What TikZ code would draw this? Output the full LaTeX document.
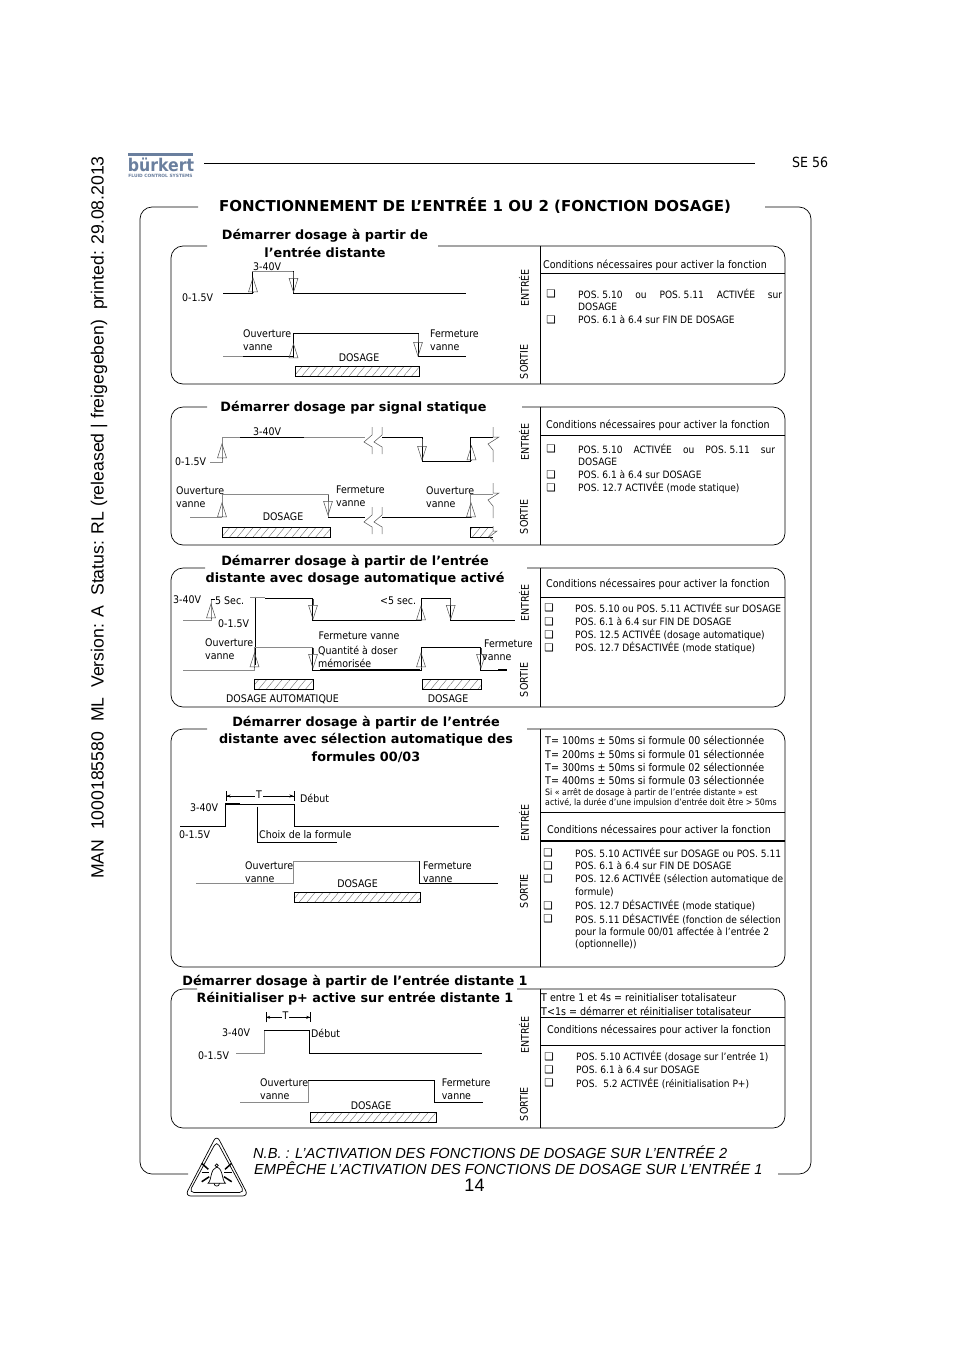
\documentclass[tikz,border=0pt]{standalone}
\usepackage{fontspec}
\setmainfont{Liberation Sans}
\newfontfamily\tahomaFont{DejaVu Sans Condensed}
\newfontfamily\verdanaFont{DejaVu Sans}
\usetikzlibrary{arrows.meta, patterns.meta}
\definecolor{logoBlue}{HTML}{6A7F9E}
\definecolor{lineGray}{HTML}{8A8A8A}
\definecolor{hatchGray}{HTML}{707070}
\definecolor{tipGray}{HTML}{505050}
\tikzset{
  panelLine/.style={draw=black, line width=0.7pt},
  sigLine/.style={draw=black, line width=0.7pt},
  sigThick/.style={draw=black, line width=1.5pt},
  sigGray/.style={draw=lineGray, line width=0.8pt},
  pulseTip/.style={draw=tipGray, line width=0.5pt, -{Triangle[open, length=15pt, width=9.5pt]}},
  dimLine/.style={draw=black, line width=0.5pt, {Bar[width=10pt]Stealth[length=4pt, width=3pt]}-{Stealth[length=4pt, width=3pt]Bar[width=10pt]}},
  hatchBar/.style={draw=black, line width=0.7pt, pattern={Lines[angle=50, distance=6pt, line width=0.4pt]}, pattern color=hatchGray},
  labelText/.style={inner sep=0pt, align=left, anchor=west, font=\tahomaFont\fontsize{10.5}{13}\selectfont},
  condText/.style={inner sep=0pt, anchor=west, font=\tahomaFont\fontsize{10.6}{13}\selectfont},
  posText/.style={inner sep=0pt, anchor=west, font=\tahomaFont\fontsize{10.1}{13}\selectfont},
  smallText/.style={inner sep=0pt, anchor=west, font=\tahomaFont\fontsize{8.75}{10}\selectfont},
  markBox/.style={inner sep=0pt, font=\verdanaFont\fontsize{10.5}{11}\selectfont},
  sideText/.style={inner sep=0pt, rotate=90, font=\tahomaFont\fontsize{10.6}{12}\selectfont},
  headText/.style={inner sep=0pt, align=center, font=\verdanaFont\bfseries\fontsize{12.8}{17.5}\selectfont},
  noteText/.style={inner sep=0pt, anchor=west, font=\itshape\fontsize{14.6}{16}\selectfont},
  breakMark/.pic={\draw[draw=tipGray, line width=0.5pt] (0,0) -- (0,8) -- (-8,15) -- (0,20) -- (0,27);},
  breakEnd/.pic={\draw[draw=tipGray, line width=0.5pt] (0,0) -- (0,10) -- (6,10) -- (-5,17) -- (0,23) -- (0,35);},
}
\begin{document}
\begin{tikzpicture}[x=1pt, y=-1pt]
    \useasboundingbox (0,0) rectangle (954,1352);
    \fill[white] (0,0) rectangle (954,1352);

    \node[inner sep=0pt, rotate=90, font=\fontsize{17.65}{20}\selectfont] (sideBanner) at (99,517.5) {MAN\ \ 1000185580\ \ ML\ \ Version: A\ \ Status: RL (released | freigegeben)\ \ printed: 29.08.2013};

    \fill[logoBlue] (128,153.3) rectangle (193,155.8);
    \node[inner sep=0pt, text=logoBlue, font=\tahomaFont\bfseries\fontsize{17.5}{18}\selectfont] (logoName) at (161,165) {bürkert};
    \node[inner sep=0pt, text=logoBlue, font=\verdanaFont\bfseries\fontsize{4.4}{5}\selectfont] (logoTag) at (160.5,176) {FLUID CONTROL SYSTEMS};
    \draw[sigLine] (204,163) -- (755,163);
    \node[condText, font=\tahomaFont\fontsize{14}{16}\selectfont] (pageRef) at (792,162) {SE 56};

    \draw[panelLine, rounded corners=12pt] (198,207) -- (140,207) -- (140,1174) -- (188,1174);
    \draw[panelLine, rounded corners=12pt] (765,207) -- (811,207) -- (811,1174) -- (778,1174);
    \node[headText, font=\verdanaFont\bfseries\fontsize{15}{18}\selectfont] (mainTitle) at (475,205.5) {FONCTIONNEMENT DE L’ENTRÉE 1 OU 2 (FONCTION DOSAGE)};

    \foreach \ptop/\pbot/\gapl/\gapr in {246/384/207/438, 407/545/207/522, 568/707/205/527, 729/967/207/527, 989/1128/197/517} {
      \draw[panelLine, rounded corners=12pt] (\gapl,\ptop) -- (171,\ptop) -- (171,\pbot) -- (785,\pbot) -- (785,\ptop) -- (\gapr,\ptop);
      \draw[panelLine] (540,\ptop) -- (540,\pbot);
    }
    \foreach \ly/\lw in {273.5/1.4, 435/0.7, 597/0.8, 812.7/0.8, 841/1.4, 1017/0.8, 1045/0.8} {
      \draw[draw=black, line width=\lw pt] (540,\ly) -- (785,\ly);
    }
    \foreach \ename/\sname/\ey/\sy in {a/b/288/362, c/d/442/517, e/f/603/680, g/h/823/891, i/j/1035/1104} {
      \node[sideText] (entree\ename) at (524,\ey) {ENTRÉE};
      \node[sideText] (sortie\sname) at (524,\sy) {SORTIE};
    }

    \node[headText] (headA) at (325,243.5) {Démarrer dosage à partir de\\l’entrée distante};
    \draw[sigLine] (223,293) -- (252,293) -- (252,271);
    \draw[sigGray] (252,271) -- (293.5,271);
    \draw[sigLine] (293.5,271) -- (293.5,293) -- (466,293);
    \draw[sigLine] (293,356.7) -- (293,333.5) -- (418,333.5) -- (418,356.7) -- (430,356.7);
    \draw[sigGray] (223,356.7) -- (243,356.7);
    \draw[sigThick] (243,356.7) -- (293,356.7);
    \draw[sigThick] (430,356.7) -- (466,356.7);
    \foreach \px/\ya/\yb in {253/293/277, 293.5/272/293, 293.5/357/343, 418/334/357} {
      \draw[pulseTip] (\px,\ya) -- (\px,\yb);
    }
    \draw[hatchBar] (295,366.7) rectangle (419.5,376);
    \node[labelText] (highA) at (253,267) {3-40V};
    \node[labelText] (lowA) at (182,298) {0-1.5V};
    \node[labelText] (openA) at (243,340.5) {Ouverture\\vanne};
    \node[labelText] (closeA) at (430,340.5) {Fermeture\\vanne};
    \node[labelText, anchor=center] (doseA) at (359,358) {DOSAGE};
    \node[condText] (condA) at (543,265.5) {Conditions nécessaires pour activer la fonction};
    \node[posText] (posAa) at (578,294) {\makebox[204pt][l]{POS. 5.10\hfill ou\hfill POS. 5.11\hfill ACTIVÉE\hfill sur}};
    \node[posText] (posAb) at (578,307) {DOSAGE};
    \node[posText] (posAc) at (578,320) {POS. 6.1 à 6.4 sur FIN DE DOSAGE};
    \foreach \my in {294, 320} {\node[markBox] (markA\my) at (551,\my) {❑};}

    \node[headText] (headB) at (353.5,407.5) {Démarrer dosage par signal statique};
    \draw[sigGray] (210,462) -- (222,462) -- (222,437.7) -- (365,437.7);
    \draw[sigThick] (240,437.7) -- (304,437.7);
    \draw[sigLine] (382,437.7) -- (422,437.7) -- (422,461) -- (470,461) -- (470,437.7) -- (493,437.7);
    \pic at (372,427) {breakMark};
    \pic at (382,427) {breakMark};
    \pic at (493,427) {breakEnd};
    \draw[sigGray] (190,517.3) -- (222,517.3);
    \draw[sigGray] (222,517.3) -- (222,494) -- (328,494) -- (328,517.3);
    \draw[sigLine] (328,517.3) -- (365,517.3);
    \draw[sigThick] (328,517.3) -- (340,517.3);
    \draw[sigLine] (382,517.3) -- (470.5,517.3);
    \draw[sigGray] (470.5,517.3) -- (470.5,494) -- (493,494);
    \pic at (372,507) {breakMark};
    \pic at (382,507) {breakMark};
    \pic at (493,483) {breakEnd};
    \foreach \px/\ya/\yb in {222/459/443, 422/439/461, 471.5/460/445, 222/516/502, 328/495/516, 471/517/502} {
      \draw[pulseTip] (\px,\ya) -- (\px,\yb);
    }
    \draw[hatchBar] (222.5,527) rectangle (330.5,537.5);
    \draw[hatchBar] (493,537.5) -- (470.5,537.5) -- (470.5,527) -- (493,527);
    \draw[draw=tipGray, line width=0.5pt] (493,526) -- (493,531) -- (497,531) -- (489,537) -- (493,540) -- (493,542);
    \node[labelText] (highB) at (253,432) {3-40V};
    \node[labelText] (lowB) at (175,462) {0-1.5V};
    \node[labelText] (openB) at (176,497) {Ouverture\\vanne};
    \node[labelText] (closeB) at (336,496) {Fermeture\\vanne};
    \node[labelText] (openBb) at (426,497) {Ouverture\\vanne};
    \node[labelText, anchor=center] (doseB) at (283,517) {DOSAGE};
    \node[condText] (condB) at (546,425.5) {Conditions nécessaires pour activer la fonction};
    \node[posText] (posBa) at (578,449) {\makebox[197pt][l]{POS. 5.10\hfill ACTIVÉE\hfill ou\hfill POS. 5.11\hfill sur}};
    \node[posText] (posBb) at (578,462) {DOSAGE};
    \node[posText] (posBc) at (578,475) {POS. 6.1 à 6.4 sur DOSAGE};
    \node[posText] (posBd) at (578,488) {POS. 12.7 ACTIVÉE (mode statique)};
    \foreach \my in {449, 475, 488} {\node[markBox] (markB\my) at (551,\my) {❑};}

    \node[headText] (headC) at (355,570.5) {Démarrer dosage à partir de l’entrée\\distante avec dosage automatique activé};
    \draw[sigGray] (183,620.7) -- (211,620.7) -- (211,599);
    \draw[sigLine] (211,599) -- (215,599);
    \draw[sigLine] (255,596.7) -- (255,665);
    \draw[sigGray] (250,597.7) -- (265,597.7);
    \draw[sigLine] (265,598) -- (312.7,598) -- (312.7,620.7) -- (421,620.7) -- (421,598) -- (450.7,598) -- (450.7,620.7) -- (515,620.7);
    \draw[sigGray] (183,670) -- (254.3,670) -- (254.3,647.7) -- (312.7,647.7);
    \draw[sigLine] (312.7,647.7) -- (312.7,670) -- (421,670) -- (421,647.7) -- (480.7,647.7) -- (480.7,670) -- (498,670);
    \draw[sigThick] (320,669.5) -- (420,669.5);
    \draw[sigThick] (498,670) -- (507,670);
    \foreach \px/\ya/\yb in {211/618/603, 313/599/620, 421/620/605, 450.7/599/620, 254.5/668/652, 313/648/669, 421/668/652, 481/648/669} {
      \draw[pulseTip] (\px,\ya) -- (\px,\yb);
    }
    \draw[hatchBar] (254.3,679) rectangle (313.3,689);
    \draw[hatchBar] (422.3,679) rectangle (481.7,689);
    \node[labelText] (highC) at (173,600) {3-40V};
    \node[labelText] (timeCa) at (215,601) {5 Sec.};
    \node[labelText] (lowC) at (218,624) {0-1.5V};
    \node[labelText] (timeCb) at (380,601) {<5 sec.};
    \node[labelText] (openC) at (205,649) {Ouverture\\vanne};
    \node[labelText] (closeCa) at (318.5,636) {Fermeture vanne};
    \node[labelText] (memC) at (318,656.5) {Quantité à doser\\mémorisée};
    \node[labelText] (closeCb) at (484,644) {Fermeture};
    \node[labelText] (closeCc) at (482,657.5) {vanne};
    \node[labelText, anchor=center] (doseCa) at (282.5,699) {DOSAGE AUTOMATIQUE};
    \node[labelText, anchor=center] (doseCb) at (448,699) {DOSAGE};
    \node[condText] (condC) at (546,584.5) {Conditions nécessaires pour activer la fonction};
    \node[posText] (posCa) at (575,608) {POS. 5.10 ou POS. 5.11 ACTIVÉE sur DOSAGE};
    \node[posText] (posCb) at (575,622) {POS. 6.1 à 6.4 sur FIN DE DOSAGE};
    \node[posText] (posCc) at (575,635) {POS. 12.5 ACTIVÉE (dosage automatique)};
    \node[posText] (posCd) at (575,648) {POS. 12.7 DÉSACTIVÉE (mode statique)};
    \foreach \my in {608, 622, 635, 648} {\node[markBox] (markC\my) at (549,\my) {❑};}

    \node[headText] (headD) at (366,739) {Démarrer dosage à partir de l’entrée\\distante avec sélection automatique des\\formules 00/03};
    \draw[sigLine] (180,826.7) -- (225,826.7) -- (225,804) -- (294,804) -- (294,826.7) -- (499,826.7);
    \draw[sigThick] (225,804) -- (240,804);
    \draw[sigLine] (257.3,806.7) -- (257.3,842.7);
    \draw[sigThick] (257.3,842.7) -- (336.7,842.7);
    \draw[dimLine] (226,796) -- (294,796);
    \node[labelText, anchor=center, fill=white, inner sep=1pt] (timeD) at (259,795) {T};
    \draw[sigGray] (196,883.3) -- (293.5,883.3) -- (293.5,861) -- (419,861);
    \draw[sigLine] (419,861) -- (419,883.3) -- (498,883.3);
    \draw[hatchBar] (294.5,892.7) rectangle (420.5,902.7);
    \node[labelText] (highD) at (190,807.7) {3-40V};
    \node[labelText] (lowD) at (179,835) {0-1.5V};
    \node[labelText] (startD) at (300,798) {Début};
    \node[labelText] (choiceD) at (259,835) {Choix de la formule};
    \node[labelText] (openD) at (245,872) {Ouverture\\vanne};
    \node[labelText] (closeD) at (423,872) {Fermeture\\vanne};
    \node[labelText, anchor=center] (doseD) at (357.5,884) {DOSAGE};
    \foreach \ty/\ta/\tb in {740.5/100/00, 754.5/200/01, 767.5/300/02, 780.5/400/03} {
      \node[condText] (time\ta) at (545,\ty) {T= \ta ms ± 50ms si formule \tb{} sélectionnée};
    }
    \node[smallText] (stopDa) at (545,793) {Si « arrêt de dosage à partir de l’entrée distante » est};
    \node[smallText] (stopDb) at (545,803) {activé, la durée d’une impulsion d’entrée doit être > 50ms};
    \node[condText] (condD) at (547,830.5) {Conditions nécessaires pour activer la fonction};
    \node[posText] (posDa) at (575,853) {POS. 5.10 ACTIVÉE sur DOSAGE ou POS. 5.11};
    \node[posText] (posDb) at (575,866) {POS. 6.1 à 6.4 sur FIN DE DOSAGE};
    \node[posText] (posDc) at (575,879) {POS. 12.6 ACTIVÉE (sélection automatique de};
    \node[posText] (posDd) at (575,892) {formule)};
    \node[posText] (posDe) at (575,906) {POS. 12.7 DÉSACTIVÉE (mode statique)};
    \node[posText] (posDf) at (575,919) {POS. 5.11 DÉSACTIVÉE (fonction de sélection};
    \node[posText] (posDg) at (575,932) {pour la formule 00/01 affectée à l’entrée 2};
    \node[posText] (posDh) at (575,945) {(optionnelle))};
    \foreach \my in {853, 866, 879, 906, 919} {\node[markBox] (markD\my) at (548,\my) {❑};}

    \node[headText] (headE) at (355,990) {Démarrer dosage à partir de l’entrée distante 1\\Réinitialiser p+ active sur entrée distante 1};
    \draw[sigGray] (236,1053.3) -- (264.3,1053.3) -- (264.3,1030.7);
    \draw[sigLine] (264.3,1030.7) -- (309,1030.7) -- (309,1053.3) -- (482,1053.3);
    \draw[dimLine] (265.7,1017.3) -- (310.7,1017.3);
    \node[labelText, anchor=center, fill=white, inner sep=1pt] (timeE) at (285.5,1016) {T};
    \draw[sigGray] (240,1102.7) -- (308,1102.7) -- (308,1080);
    \draw[sigLine] (308,1080) -- (434,1080) -- (434,1102.7) -- (482.7,1102.7);
    \draw[hatchBar] (310.7,1112.7) rectangle (436,1122.3);
    \node[labelText] (highE) at (222,1033) {3-40V};
    \node[labelText] (lowE) at (198,1055.7) {0-1.5V};
    \node[labelText] (startE) at (311,1033) {Début};
    \node[labelText] (openE) at (260,1089) {Ouverture\\vanne};
    \node[labelText] (closeE) at (441.7,1089.5) {Fermeture\\vanne};
    \node[labelText, anchor=center] (doseE) at (371,1105.7) {DOSAGE};
    \node[condText] (resetEa) at (541,998) {T entre 1 et 4s = reinitialiser totalisateur};
    \node[condText] (resetEb) at (541,1011) {T<1s = démarrer et réinitialiser totalisateur};
    \node[condText] (condE) at (547,1030.5) {Conditions nécessaires pour activer la fonction};
    \node[posText] (posEa) at (576,1057) {POS. 5.10 ACTIVÉE (dosage sur l’entrée 1)};
    \node[posText] (posEb) at (576,1070) {POS. 6.1 à 6.4 sur DOSAGE};
    \node[posText] (posEc) at (576,1083) {POS.\ \ 5.2 ACTIVÉE (réinitialisation P+)};
    \foreach \my in {1057, 1070, 1083} {\node[markBox] (markE\my) at (549,\my) {❑};}

    \draw[sigLine, rounded corners=6pt] (216.7,1135) -- (248.5,1196) -- (185,1196) -- cycle;
    \draw[sigLine, rounded corners=5pt] (216.7,1141) -- (244.5,1192.5) -- (189,1192.5) -- cycle;
    \draw[sigLine] (208,1183.3) .. controls (212,1180) and (210,1169) .. (216.7,1167) .. controls (223.5,1169) and (221.5,1180) .. (225.5,1183.3) -- cycle;
    \draw[sigLine] (216.7,1165.4) circle (1.6);
    \draw[sigLine] (214,1183.3) .. controls (214,1187) and (219.5,1187) .. (219.5,1183.3);
    \foreach \ra/\rb/\rc/\rd in {201.7/1163.3/208.3/1169.3, 201.7/1172.3/209.3/1172.3, 201.7/1181.7/209.3/1176.7, 231.7/1163.3/225/1169.3, 231.7/1172.3/224/1172.3, 231.7/1181.7/224/1176.7} {
      \draw[sigThick] (\ra,\rb) -- (\rc,\rd);
    }
    \node[noteText] (noteA) at (253,1152.5) {N.B. : L’ACTIVATION DES FONCTIONS DE DOSAGE SUR L’ENTRÉE 2};
    \node[noteText] (noteB) at (254,1168.5) {EMPÊCHE L’ACTIVATION DES FONCTIONS DE DOSAGE SUR L’ENTRÉE 1};
    \node[inner sep=0pt, font=\fontsize{18}{20}\selectfont] (pageNum) at (474.5,1185) {14};
\end{tikzpicture}
\end{document}
